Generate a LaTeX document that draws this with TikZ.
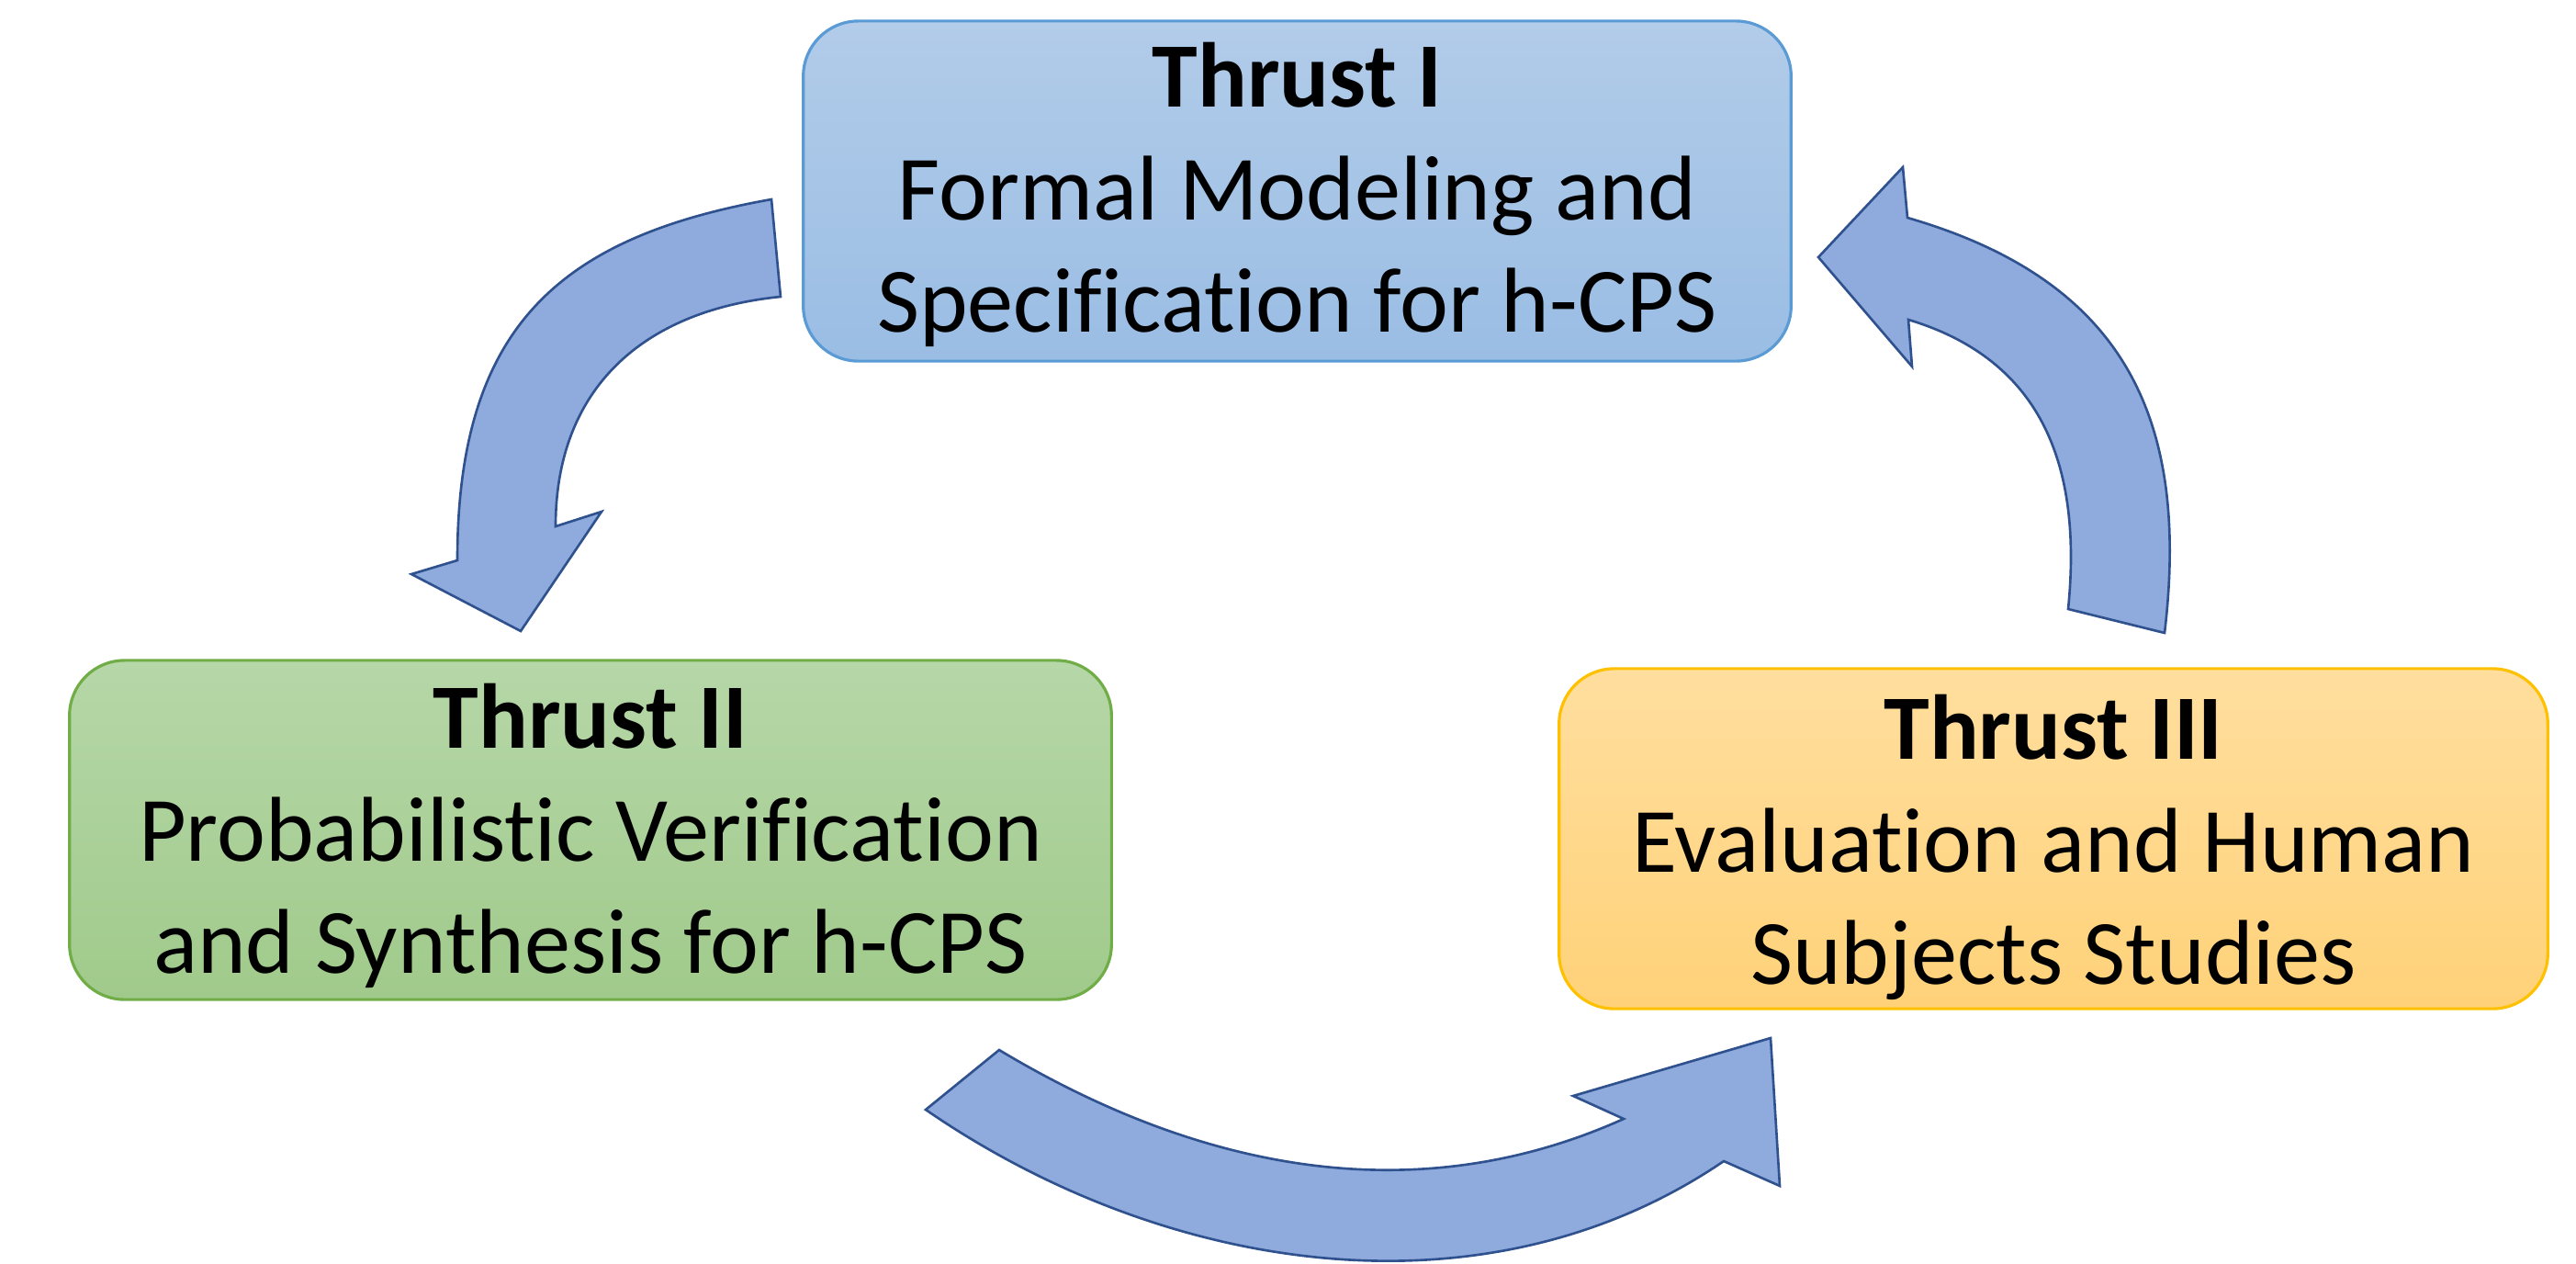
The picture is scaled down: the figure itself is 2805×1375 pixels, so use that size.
\documentclass[tikz,border=0pt]{standalone}
\usepackage{fontspec}
\setmainfont{Carlito}[Ligatures={NoCommon}]
\definecolor{btop}{HTML}{B2CCE9}
\definecolor{bbot}{HTML}{9ABDE4}
\definecolor{bline}{HTML}{5B9BD5}
\definecolor{gtop}{HTML}{B6D7A8}
\definecolor{gbot}{HTML}{A0CA8B}
\definecolor{gline}{HTML}{70AD47}
\definecolor{otop}{HTML}{FFDE9E}
\definecolor{obot}{HTML}{FFD279}
\definecolor{oline}{HTML}{FFC000}
\definecolor{arrfill}{HTML}{8FAADC}
\definecolor{arrline}{HTML}{2F528F}
\begin{document}
\begin{tikzpicture}[x=0.01cm,y=-0.01cm,
  thrustbox/.style={rectangle, rounded corners=0.6cm, inner sep=0pt, line width=0.9pt},
  thrustlabel/.style={align=center, inner sep=0pt, font=\fontsize{28.5}{34.7}\selectfont},
  blockarrow/.style={fill=arrfill, draw=arrline, line width=0.75pt, line join=miter}]
\useasboundingbox (0,0) rectangle (2805,1375);

% boxes
\node[thrustbox, minimum width=10.75cm, minimum height=3.7cm,
      top color=btop, bottom color=bbot, draw=bline] (b1) at (1412.5,208) {};
\node[thrustbox, minimum width=11.34cm, minimum height=3.69cm,
      top color=gtop, bottom color=gbot, draw=gline] (b2) at (643,903.5) {};
\node[thrustbox, minimum width=10.76cm, minimum height=3.7cm,
      top color=otop, bottom color=obot, draw=oline] (b3) at (2236,913) {};

% labels
\node[thrustlabel] (t1) at (1412.5,214.6)
  {\textbf{Thrust I}\strut\\Formal Modeling and\strut\\Specification for h-CPS\strut};
\node[thrustlabel] (t2) at (643,912.6)
  {\textbf{Thrust II}\strut\\Probabilistic Verification\strut\\and Synthesis for h-CPS\strut};
\node[thrustlabel] (t3) at (2236,924.6)
  {\textbf{Thrust III}\strut\\Evaluation and Human\strut\\Subjects Studies\strut};

% arrow I -> II
\filldraw[blockarrow]
  (840,217) .. controls (610,258) and (498,355) .. (498,610)
  -- (448,625) -- (567,687) -- (655,557) -- (605,573)
  .. controls (605,423) and (700,338) .. (850,323)
  -- cycle;

% arrow II -> III
\filldraw[blockarrow]
  (1088,1143) .. controls (1338,1293) and (1568,1308) .. (1768,1218)
  -- (1713,1193) -- (1928,1130) -- (1938,1291) -- (1877,1264)
  .. controls (1617,1441) and (1268,1387) .. (1008,1208)
  -- cycle;

% arrow III -> I
\filldraw[blockarrow]
  (2357,689) .. controls (2385,454) and (2312,305) .. (2077,237)
  -- (2072,182) -- (1980,280) -- (2082,399) -- (2078,348)
  .. controls (2228,393) and (2267,513) .. (2252,663)
  -- cycle;
\end{tikzpicture}
\end{document}
